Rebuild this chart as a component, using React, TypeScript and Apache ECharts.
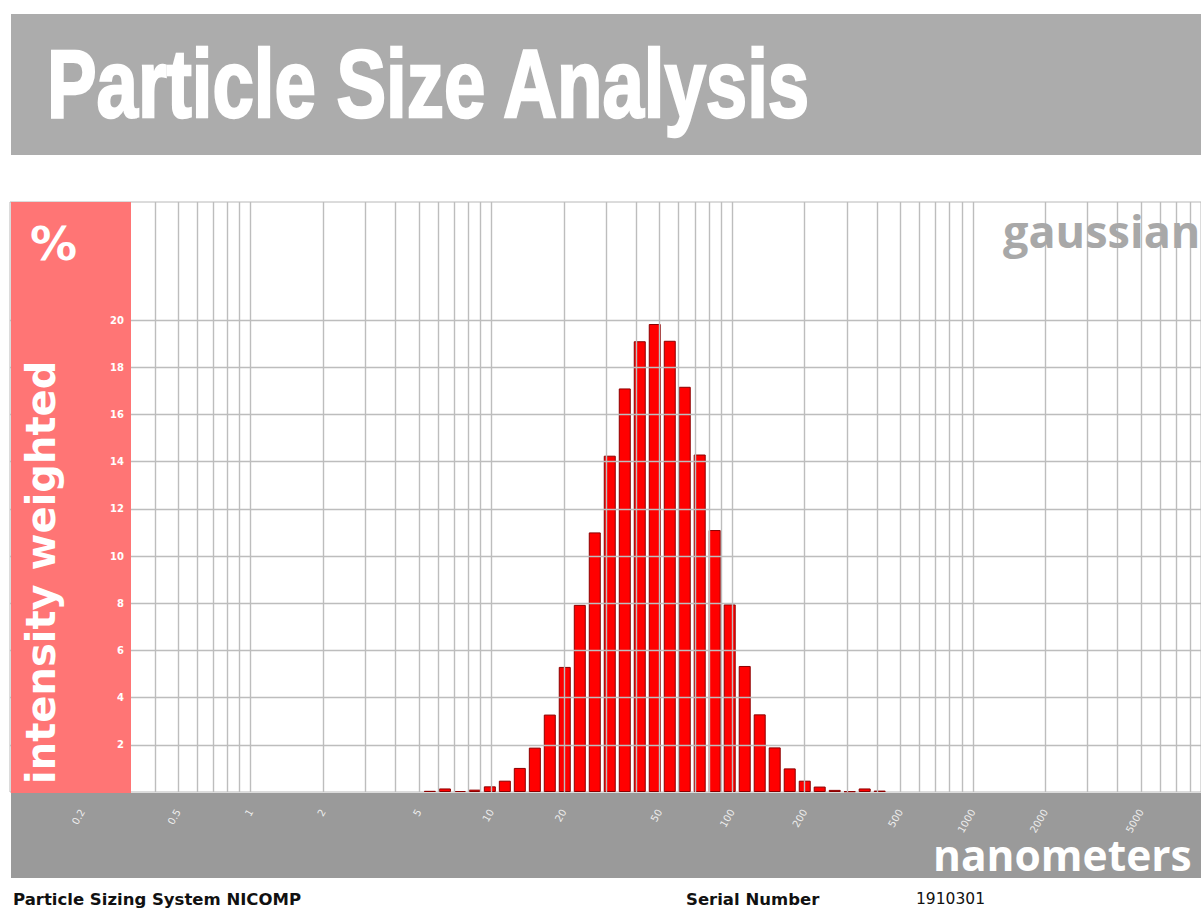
import React, { useEffect, useRef } from "react";
import * as echarts from "echarts";

// Bin centre diameters (nm) and intensity-weighted percentages
const binSizes = [
  5.55, 6.41, 7.39, 8.53, 9.85, 11.37, 13.12, 15.15, 17.48, 20.17, 23.29, 26.88,
  31.02, 35.81, 41.33, 47.71, 55.07, 63.56, 73.34, 84.66, 97.7, 112.8, 130.2,
  150.3, 173.5, 200.3, 231.1, 266.8, 307.9, 355.4, 410.2,
];
const intensity = [
  0.05, 0.15, 0.04, 0.1, 0.24, 0.48, 1.02, 1.88, 3.28, 5.3, 7.93, 11.0, 14.25,
  17.1, 19.1, 19.83, 19.12, 17.17, 14.3, 11.1, 7.95, 5.34, 3.29, 1.89, 1.0,
  0.48, 0.23, 0.09, 0.03, 0.15, 0.06,
];

// Axis range (nm) and tick labels
const xMin = 0.1;
const xMax = 8870;
const xLabelValues = [0.2, 0.5, 1, 2, 5, 10, 20, 50, 100, 200, 500, 1000, 2000, 5000];
const yTickValues = [2, 4, 6, 8, 10, 12, 14, 16, 18, 20];

// Grid lines
const gridX = [
  0.2, 0.3, 0.4, 0.5, 0.6, 0.7, 0.8, 0.9,
  1, 2, 3, 4, 5, 6, 7, 8, 9,
  10, 20, 30, 40, 50, 60, 70, 80, 90,
  100, 200, 300, 400, 500, 600, 700, 800, 900,
  1000, 2000, 3000, 4000, 5000, 6000, 7000, 8000,
];
const gridY = [2, 4, 6, 8, 10, 12, 14, 16, 18, 20];

const titleText = "Particle Size Analysis";
const yUnitText = "%";
const yTitleText = "intensity weighted";
const xTitleText = "nanometers";
const modelText = "gaussian";
const footerLeft = "Particle Sizing System NICOMP";
const footerSerialLabel = "Serial Number";
const footerSerialValue = "1910301";

export default function App() {
  const ref = useRef<HTMLDivElement>(null);

  useEffect(() => {
    if (!ref.current) return;
    const chart = echarts.init(ref.current, undefined, { renderer: "svg" });

    const fmt = (v: number) => String(parseFloat(Number(v).toPrecision(6)));
    const textBase = {
      align: "left",
      verticalAlign: "middle",
      textAlign: "left",
      textVerticalAlign: "middle",
    };

    const option: any = {
      animation: false,
      backgroundColor: "#ffffff",
      grid: {
        left: 10,
        right: 0,
        top: 202,
        height: 590,
        show: true,
        backgroundColor: "#ffffff",
        borderColor: "#b8b8b8",
        borderWidth: 1,
      },
      xAxis: {
        type: "log",
        logBase: 10,
        min: xMin,
        max: xMax,
        z: 20,
        axisLine: { show: false },
        axisTick: { show: false },
        splitLine: { show: false },
        minorTick: { show: false },
        minorSplitLine: { show: false },
        axisLabel: {
          customValues: xLabelValues,
          rotate: 60,
          margin: 18,
          color: "#eeeeee",
          fontSize: 10,
          fontFamily: "DejaVu Sans",
          formatter: (v: number) => fmt(v),
        },
      },
      yAxis: {
        type: "value",
        min: 0,
        max: 25,
        z: 20,
        offset: -116,
        axisLine: { show: false },
        axisTick: { show: false },
        splitLine: { show: false },
        axisLabel: {
          customValues: yTickValues,
          margin: 2,
          color: "#ffffff",
          fontSize: 10,
          fontWeight: "bold",
          fontFamily: "DejaVu Sans",
        },
      },
      series: [
        {
          type: "line",
          data: [],
          z: 1,
          silent: true,
          markLine: {
            silent: true,
            animation: false,
            symbol: ["none", "none"],
            label: { show: false },
            emphasis: { disabled: true },
            lineStyle: { color: "#bdbdbd", width: 1.4, type: "solid" },
            data: [
              ...gridX.map((v) => ({ xAxis: v })),
              ...gridY.map((v) => ({ yAxis: v })),
            ],
          },
        },
        {
          type: "bar",
          data: binSizes.map((s, i) => [s, intensity[i]]),
          barWidth: 12,
          z: 3,
          itemStyle: { color: "#ff0000", borderColor: "#8b0000", borderWidth: 1 },
        },
      ],
      graphic: [
        {
          type: "rect",
          z: 10,
          shape: { x: 11, y: 14, width: 1190, height: 141 },
          style: { fill: "#acacac" },
        },
        {
          type: "text",
          z: 30,
          x: 47,
          y: 83,
          scaleX: 0.775,
          style: {
            ...textBase,
            text: titleText,
            fill: "#ffffff",
            stroke: "#ffffff",
            lineWidth: 2.5,
            fontSize: 96,
            fontWeight: "bold",
            fontFamily: "'Liberation Sans', Arial, sans-serif",
          },
        },
        {
          type: "rect",
          z: 10,
          shape: { x: 11, y: 202, width: 120, height: 591 },
          style: { fill: "#ff7575" },
        },
        {
          type: "rect",
          z: 10,
          shape: { x: 11, y: 793, width: 1190, height: 85 },
          style: { fill: "#9a9a9a" },
        },
        {
          type: "text",
          z: 30,
          x: 30,
          y: 243,
          style: {
            ...textBase,
            text: yUnitText,
            fill: "#ffffff",
            fontSize: 47,
            fontWeight: "bold",
            fontFamily: "DejaVu Sans",
          },
        },
        {
          type: "text",
          z: 30,
          x: 41,
          y: 784,
          rotation: Math.PI / 2,
          style: {
            ...textBase,
            text: yTitleText,
            fill: "#ffffff",
            fontSize: 40,
            fontWeight: "bold",
            fontFamily: "DejaVu Sans",
          },
        },
        {
          type: "text",
          z: 30,
          x: 1003,
          y: 230,
          style: {
            ...textBase,
            text: modelText,
            fill: "#a8a8a8",
            fontSize: 45,
            fontWeight: "bold",
            fontFamily: "'Open Sans'",
          },
        },
        {
          type: "text",
          z: 30,
          x: 933,
          y: 854,
          style: {
            ...textBase,
            text: xTitleText,
            fill: "#ffffff",
            fontSize: 42.5,
            fontWeight: "bold",
            fontFamily: "'Open Sans'",
          },
        },
        {
          type: "text",
          z: 30,
          x: 13,
          y: 899,
          style: {
            ...textBase,
            text: footerLeft,
            fill: "#111111",
            fontSize: 16.5,
            fontWeight: "bold",
            fontFamily: "DejaVu Sans",
          },
        },
        {
          type: "text",
          z: 30,
          x: 686,
          y: 899,
          style: {
            ...textBase,
            text: footerSerialLabel,
            fill: "#111111",
            fontSize: 16.5,
            fontWeight: "bold",
            fontFamily: "DejaVu Sans",
          },
        },
        {
          type: "text",
          z: 30,
          x: 916,
          y: 899,
          style: {
            ...textBase,
            text: footerSerialValue,
            fill: "#111111",
            fontSize: 15.5,
            fontFamily: "DejaVu Sans",
          },
        },
      ],
    };

    chart.setOption(option);
    return () => chart.dispose();
  }, []);

  return (
    <div
      ref={ref}
      style={{ position: "absolute", left: 0, top: 0, width: 1201, height: 910 }}
    />
  );
}
